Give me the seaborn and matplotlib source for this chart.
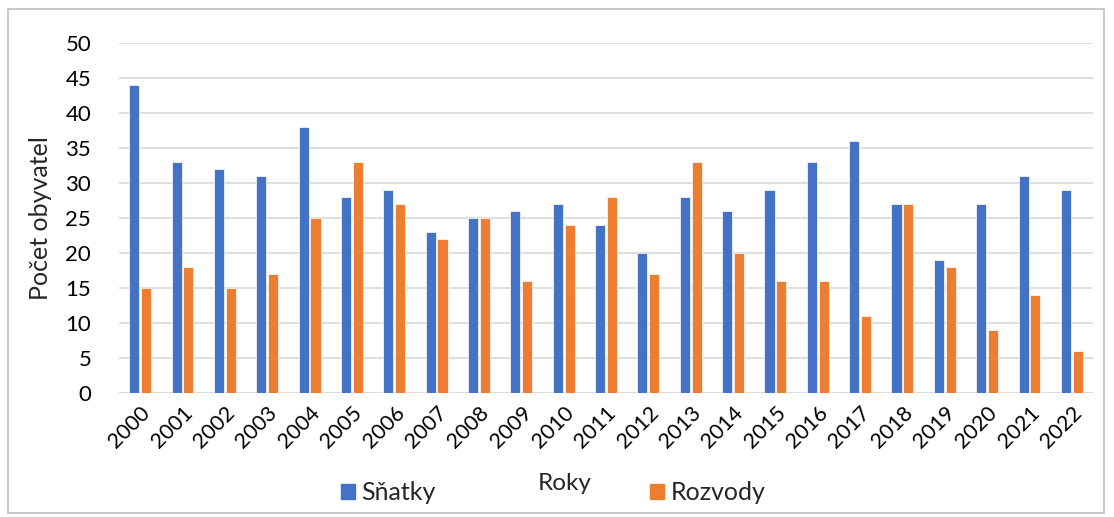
import matplotlib
matplotlib.use("Agg")
import matplotlib.pyplot as plt
import pandas as pd
import seaborn as sns
from matplotlib.patches import Rectangle

sns.set_theme(style="white")
plt.rcParams['font.family'] = ['Lato', 'DejaVu Sans']

# data
roky = [str(r) for r in range(2000, 2023)]
snatky = [44, 33, 32, 31, 38, 28, 29, 23, 25, 26, 27, 24, 20, 28, 26, 29, 33, 36, 27, 19, 27, 31, 29]
rozvody = [15, 18, 15, 17, 25, 33, 27, 22, 25, 16, 24, 28, 17, 33, 20, 16, 16, 11, 27, 18, 9, 14, 6]

df = pd.DataFrame({'rok': roky * 2,
                   'pocet': snatky + rozvody,
                   'typ': ['Sňatky'] * len(roky) + ['Rozvody'] * len(roky)})

fig = plt.figure(figsize=(11.14, 5.17), dpi=100)
ax = fig.add_axes([119 / 1114, 1 - 393 / 517, (1093 - 119) / 1114, (393 - 43) / 517])

sns.barplot(data=df, x='rok', y='pocet', hue='typ', ax=ax,
            palette=['#4472C4', '#ED7D31'], saturation=1, width=0.56, gap=0.15,
            edgecolor='white', linewidth=0.5, legend=False)

ax.set_ylim(0, 50)
ax.set_yticks(range(0, 51, 5))
ax.set_xlim(-0.5, len(roky) - 0.5)
ax.grid(axis='y', color='#d9d9d9', linewidth=1.2)
ax.set_axisbelow(True)
for s in ax.spines.values():
    s.set_visible(False)
ax.axhline(0, color='#d9d9d9', linewidth=1.2, zorder=0)

ax.tick_params(axis='y', length=0, pad=20, labelsize=16, labelcolor='black')
ax.tick_params(axis='x', length=0, pad=7, labelsize=15.5, labelcolor='black')
plt.setp(ax.get_xticklabels(), rotation=45, ha='right', va='top', rotation_mode='anchor')

ax.set_xlabel('')
ax.set_ylabel('Počet obyvatel', fontsize=18, labelpad=10)
fig.text(565 / 1114, 1 - 484 / 517, 'Roky', fontsize=17.5, ha='center', va='center')

# legenda
handles = [Rectangle((0, 0), 1, 1, color='#4472C4'), Rectangle((0, 0), 1, 1, color='#ED7D31')]
fig.legend(handles, ['Sňatky', 'Rozvody'], loc='center', bbox_to_anchor=(553 / 1114, 1 - 493 / 517),
           ncol=2, frameon=False, fontsize=18, columnspacing=8.6, handlelength=0.56,
           handleheight=0.56, handletextpad=0.25)

# ramecek
fig.patches.append(Rectangle((8 / 1114, 4 / 517), 1096 / 1114, 1 - 13 / 517, transform=fig.transFigure,
                             fill=False, edgecolor='#bfbfbf', linewidth=1.2))

fig.savefig('out.png', dpi=100)
